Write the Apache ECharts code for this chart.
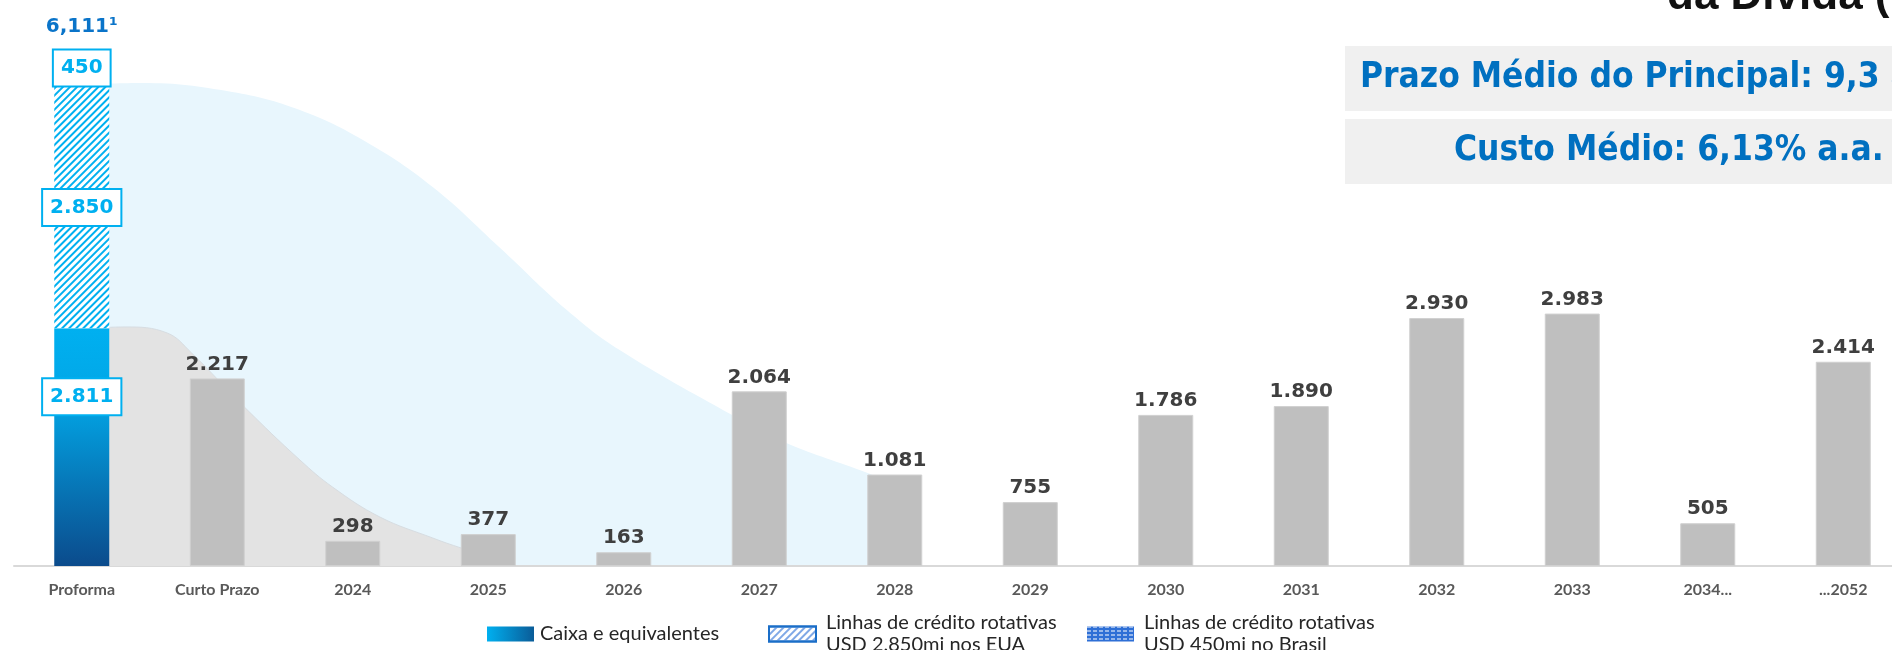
<!DOCTYPE html>
<html>
<head>
<meta charset="utf-8">
<title>Cronograma de amortização da dívida</title>
<script src="https://cdn.jsdelivr.net/npm/echarts@6/dist/echarts.min.js"></script>
<style>
html, body { margin: 0; padding: 0; background: #fff; }
#chart { width: 1892px; height: 650px; }
</style>
</head>
<body>
<div id="chart"></div>
<script>
// eixo x
const categorias = ['Proforma', 'Curto Prazo', '2024', '2025', '2026', '2027', '2028', '2029', '2030', '2031', '2032', '2033', '2034...', '...2052'];
// liquidez proforma (US$ mi)
const caixa = 2811;
const linhaEUA = 2850;
const linhaBrasil = 450;
// amortização por ano
const amortizacao = ['-', 2217, 298, 377, 163, 2064, 1081, 755, 1786, 1890, 2930, 2983, 505, 2414];
// curvas decorativas do fundo: [posição da categoria, valor]
const curvaAzul = [[0.1, 5697], [0.45, 5709], [1.11, 5603], [1.61, 5390], [2.10, 5012], [2.59, 4480], [3.08, 3771], [3.58, 3026], [3.97, 2553], [4.80, 1785], [5.20, 1454], [5.80, 1099], [6.0, 960]];
const curvaCinza = [[0.1, 2813], [0.32, 2825], [0.63, 2754], [0.81, 2518], [1.20, 1879], [1.61, 1253], [1.85, 934], [2.20, 579], [2.59, 331], [2.80, 213], [3.0, 120], [3.1, 90]];
// textos
const nomeCaixa = 'Caixa e equivalentes';
const nomeEUA = 'Linhas de crédito rotativas\nUSD 2.850mi nos EUA';
const nomeBrasil = 'Linhas de crédito rotativas\nUSD 450mi no Brasil';
const titulo = 'da Dívida (US$ milhões)';
const prazoMedio = 'Prazo Médio do Principal: 9,3 anos';
const custoMedio = 'Custo Médio: 6,13% a.a.';

const AZUL = '#00b0f0';
const fmt = (v, sep) => String(v).replace(/\B(?=(\d{3})+(?!\d))/g, sep || '.');
const soProforma = v => categorias.map((c, i) => (i === 0 ? v : '-'));

const decalEUA = { symbol: 'rect', symbolSize: 1, dashArrayX: [1, 0], dashArrayY: [2, 3], rotation: -Math.PI / 4, color: AZUL };
const decalBrasil = { symbol: 'rect', symbolSize: 1, dashArrayX: [[4, 2]], dashArrayY: [1, 3], color: '#ffffff' };

const caixaLabel = {
  show: true,
  formatter: p => fmt(p.value),
  color: AZUL,
  fontFamily: 'DejaVu Sans',
  fontWeight: 'bold',
  fontSize: 20,
  overflow: 'none',
  backgroundColor: '#fff',
  borderColor: AZUL,
  borderWidth: 2,
  padding: [8, 7, 7, 7]
};

const myChart = echarts.init(document.getElementById('chart'));
myChart.setOption({
  animation: false,
  grid: { left: 14, right: -19, top: 16, bottom: 84, containLabel: false, outerBoundsMode: 'none' },
  xAxis: [
    {
      type: 'category',
      data: categorias,
      axisTick: { show: false },
      axisLine: { lineStyle: { color: '#d9d9d9', width: 2 } },
      axisLabel: { interval: 0, margin: 16, color: '#595959', fontFamily: 'Lato', fontWeight: 'bold', fontSize: 16 }
    },
    { type: 'value', min: -0.5, max: 13.5, show: false }
  ],
  yAxis: { type: 'value', min: 0, max: 6500, show: false },
  legend: [
    {
      left: 487, top: 624, padding: 0, itemWidth: 47, itemHeight: 15, selectedMode: false,
      textStyle: { fontFamily: 'Lato', fontSize: 20, color: '#262626', padding: [0, 0, 0, 1] },
      data: [{ name: nomeCaixa, icon: 'rect', itemStyle: { color: new echarts.graphic.LinearGradient(0, 0, 1, 0, [{ offset: 0, color: '#00b0f0' }, { offset: 1, color: '#0a5c98' }]) } }]
    },
    {
      left: 768, top: 612, padding: 0, itemWidth: 47, itemHeight: 15, selectedMode: false,
      textStyle: { fontFamily: 'Lato', fontSize: 20, lineHeight: 22, color: '#262626', padding: [0, 0, 0, 5] },
      data: [{ name: nomeEUA, icon: 'rect', itemStyle: { color: '#fff', borderColor: '#1a6ec8', borderWidth: 2, decal: { symbol: 'rect', symbolSize: 1, dashArrayX: [1, 0], dashArrayY: [2, 3], rotation: -Math.PI / 4, color: '#7fa8e6' } } }]
    },
    {
      left: 1087, top: 612, padding: 0, itemWidth: 47, itemHeight: 15, selectedMode: false,
      textStyle: { fontFamily: 'Lato', fontSize: 20, lineHeight: 22, color: '#262626', padding: [0, 0, 0, 5] },
      data: [{ name: nomeBrasil, icon: 'rect', itemStyle: { color: '#2e6fd6', decal: decalBrasil } }]
    }
  ],
  graphic: [
    { type: 'text', x: 1667, y: -3, style: { text: titulo, fill: '#111', font: 'bold 44px "Liberation Sans"', verticalAlign: 'middle' } },
    { type: 'rect', shape: { x: 1345, y: 46, width: 560, height: 65 }, style: { fill: '#f0f0f0' } },
    { type: 'rect', shape: { x: 1345, y: 119, width: 560, height: 65 }, style: { fill: '#f0f0f0' } },
    { type: 'text', x: 1360, y: 78, style: { text: prazoMedio, fill: '#0070c0', font: 'bold 35px "DejaVu Sans Condensed", "DejaVu Sans", sans-serif', verticalAlign: 'middle' } },
    { type: 'text', x: 1454, y: 151, style: { text: custoMedio, fill: '#0070c0', font: 'bold 35px "DejaVu Sans Condensed", "DejaVu Sans", sans-serif', verticalAlign: 'middle' } }
  ],
  series: [
    {
      name: 'fundo azul', type: 'line', xAxisIndex: 1, z: 0, data: curvaAzul, smooth: 0.4, symbol: 'none', silent: true,
      lineStyle: { width: 0 }, areaStyle: { color: '#e8f6fd', opacity: 1 }
    },
    {
      name: 'fundo cinza', type: 'line', xAxisIndex: 1, z: 1, data: curvaCinza, smooth: 0.4, symbol: 'none', silent: true,
      lineStyle: { width: 1, color: '#d7dde2' }, areaStyle: { color: '#e3e3e3', opacity: 1 }
    },
    {
      name: nomeCaixa, type: 'bar', stack: 'total', z: 5, barWidth: 55, data: soProforma(caixa),
      itemStyle: {
        color: new echarts.graphic.LinearGradient(0, 0, 0, 1, [
          { offset: 0, color: '#00b0f0' }, { offset: 0.3, color: '#02a6e6' }, { offset: 1, color: '#0b4b8c' }
        ])
      },
      label: Object.assign({}, caixaLabel, { position: 'insideTop', distance: 51 })
    },
    {
      name: nomeEUA, type: 'bar', stack: 'total', z: 5, data: soProforma(linhaEUA),
      itemStyle: { color: '#ffffff', decal: decalEUA },
      label: Object.assign({}, caixaLabel, { position: 'inside' })
    },
    {
      name: nomeBrasil, type: 'bar', stack: 'total', z: 5, data: soProforma(linhaBrasil),
      itemStyle: { color: '#2e6fd6', decal: decalBrasil },
      label: Object.assign({}, caixaLabel, { position: 'inside' })
    },
    {
      name: 'total', type: 'bar', stack: 'total', z: 5, data: soProforma(0),
      label: {
        show: true, position: 'top', distance: 12,
        formatter: () => fmt(caixa + linhaEUA + linhaBrasil, ',') + '¹',
        color: '#0a74c9', fontFamily: 'DejaVu Sans', fontWeight: 'bold', fontSize: 20
      }
    },
    {
      name: 'Amortização', type: 'bar', stack: 'total', z: 5, data: amortizacao,
      itemStyle: { color: '#bfbfbf', borderColor: '#d0d0d0', borderWidth: 1 },
      label: {
        show: true, position: 'top', distance: 4, formatter: p => fmt(p.value),
        color: '#3f3f3f', fontFamily: 'DejaVu Sans', fontWeight: 'bold', fontSize: 20
      }
    }
  ]
});
</script>
</body>
</html>
